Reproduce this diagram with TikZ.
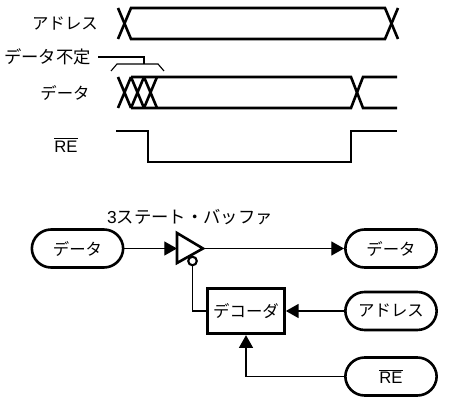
\documentclass[tikz,border=0pt]{standalone}
\usepackage{fontspec}
\usetikzlibrary{arrows.meta,calc}
\setmainfont{Noto Sans CJK JP}[Renderer=Basic]
\newfontfamily\latinf{Liberation Sans}
\newcommand{\REbar}{{\latinf\fontsize{12.5}{14}\selectfont$\overline{\mbox{RE}}$}}
\tikzset{
  wave/.style={line width=1.95pt,line join=miter},
  thinl/.style={line width=0.85pt},
  txt/.style={inner sep=0pt,font=\fontsize{12.3}{14}\selectfont},
  lbl/.style={inner sep=0pt,font=\fontsize{13}{15}\selectfont},
  pill/.style={draw,line width=1.95pt,rounded corners=14.5pt,minimum width=68.5pt,minimum height=28.5pt,inner sep=0pt,font=\fontsize{12.3}{14}\selectfont},
  box/.style={draw,line width=2.3pt,minimum width=57.5pt,minimum height=34pt,inner sep=0pt,font=\fontsize{12.3}{14}\selectfont},
  conn/.style={line width=0.85pt,-{Triangle[length=9.5pt,width=10.5pt]}}
}
\begin{document}
\begin{tikzpicture}[x=0.75pt,y=-0.75pt]
\useasboundingbox (0,0) rectangle (450,402);
% timing labels
\node[txt] (la) at (65,24) {アドレス};
\node[lbl] (lu) at (47.5,57) {データ不定};
\node[txt] (ld) at (65,93) {データ};
\node[txt] (lr) at (66,145) {\REbar};
% address
\draw[wave] (118,8) -- (131,39) -- (385,39) -- (398,8);
\draw[wave] (118,39) -- (131,8) -- (385,8) -- (398,39);
% data
\draw[wave] (118,77) -- (131,108) (118,108) -- (131,77);
\draw[wave] (131,77) -- (144,108) (131,108) -- (144,77);
\draw[wave] (144,77) -- (157,108) (144,108) -- (157,77);
\draw[wave] (131,77) -- (351,77) -- (363,108) -- (397,108);
\draw[wave] (131,108) -- (351,108) -- (363,77) -- (397,77);
% RE
\draw[wave] (116,131) -- (148,131) -- (148,162) -- (351,162) -- (351,131) -- (397,131);
% undefined bracket
\coordinate (bt) at (144,64);
\draw[thinl] (98,57) -- (144,57) -- (bt);
\draw[thinl] (111,71) -- (117,64) -- (158,64) -- (164,71);
% circuit
\node[lbl] (buflabel) at (190,217) {{\latinf 3}ステート・バッファ};
\node[pill] (din) at (77.5,248.5) {データ};
\node[pill] (dout) at (391,248.5) {データ};
\node[pill] (addr) at (391,311) {アドレス};
\node[pill] (re) at (391,376.5) {\REbar};
\node[box] (dec) at (246,311) {デコーダ};
\coordinate (ti) at (177,248.5);
\coordinate (to) at (203,248.5);
\coordinate (bub) at (192.5,261);
\draw[line width=1.95pt,line join=miter] (177,233) -- (to) -- (177,263) -- cycle;
\draw[line width=1.6pt,fill=white] (bub) circle[radius=3.2pt];
\draw[conn] (din.east) -- (ti);
\draw[conn] (to) -- (dout.west);
\draw[conn] (addr.west) -- (dec.east);
\draw[conn] (re.west) -| (dec.south);
\draw[thinl] ($(bub)+(0,4.3)$) |- (dec.west);
\end{tikzpicture}
\end{document}
